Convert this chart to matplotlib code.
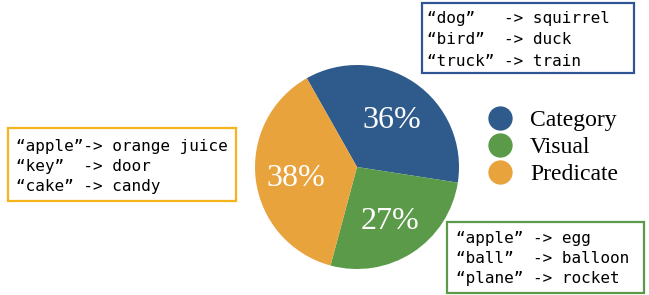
import matplotlib
matplotlib.use("Agg")
import matplotlib.pyplot as plt
from matplotlib.patches import Rectangle
import numpy as np

# Pie data
categories = ["Category", "Visual", "Predicate"]
shares = [36, 27, 38]
share_labels = ["36%", "27%", "38%"]
colors = ["#2E5A8C", "#5B9A48", "#E8A33D"]

# Example pairs shown in the boxes
category_examples = ["\u201cdog\u201d   -> squirrel",
                     "\u201cbird\u201d  -> duck",
                     "\u201ctruck\u201d -> train"]
predicate_examples = ["\u201capple\u201d-> orange juice",
                      "\u201ckey\u201d  -> door",
                      "\u201ccake\u201d -> candy"]
visual_examples = ["\u201capple\u201d -> egg",
                   "\u201cball\u201d  -> balloon",
                   "\u201cplane\u201d -> rocket"]

W, H = 649, 295
fig = plt.figure(figsize=(W / 100, H / 100), dpi=100)

# Pie axes, placed in pixels (center ~ (357,167), radius ~102)
cx, cy, r = 357, 167, 102
ax = fig.add_axes([(cx - r) / W, (H - cy - r) / H, 2 * r / W, 2 * r / H])
wedges, texts = ax.pie(shares, colors=colors, startangle=119.5,
                       counterclock=False,
                       wedgeprops=dict(linewidth=0))
# percentage labels inside each wedge
for w, lab in zip(wedges, share_labels):
    ang = np.deg2rad((w.theta1 + w.theta2) / 2)
    ax.text(0.6 * np.cos(ang), 0.6 * np.sin(ang), lab, color="white",
            ha="center", va="center_baseline", fontsize=23,
            family="Liberation Serif")
ax.set_xlim(-1, 1)
ax.set_ylim(-1, 1)
ax.set_aspect("equal")
ax.axis("off")

# Overlay axes in pixel coordinates for boxes and legend
ov = fig.add_axes([0, 0, 1, 1], zorder=5)
ov.set_xlim(0, W)
ov.set_ylim(H, 0)
ov.axis("off")
ov.patch.set_alpha(0)


def draw_box(x0, y0, x1, y1, edge, lines, tx, ty0, dy):
    ov.add_patch(Rectangle((x0, y0), x1 - x0, y1 - y0, facecolor="white",
                           edgecolor=edge, linewidth=1.6))
    for i, line in enumerate(lines):
        ov.text(tx, ty0 + i * dy, line, ha="left", va="center",
                fontsize=11.5, family="DejaVu Sans Mono", color="black")


draw_box(422, 3, 634, 73, "#2F5597", category_examples, 427, 19, 21)
draw_box(8, 128, 236, 201, "#F5B31C", predicate_examples, 16, 146, 20.5)
draw_box(447, 222, 644, 293, "#5B9A48", visual_examples, 456, 238, 20.5)

# Legend
for i, (name, c) in enumerate(zip(categories, colors)):
    y = 118 + i * 27
    ov.plot(500, y, marker="o", markersize=16.5, color=c, linestyle="")
    ov.text(530, y, name, ha="left", va="center_baseline", fontsize=17,
            family="Liberation Serif", color="black")

fig.savefig("out.png", dpi=100)
